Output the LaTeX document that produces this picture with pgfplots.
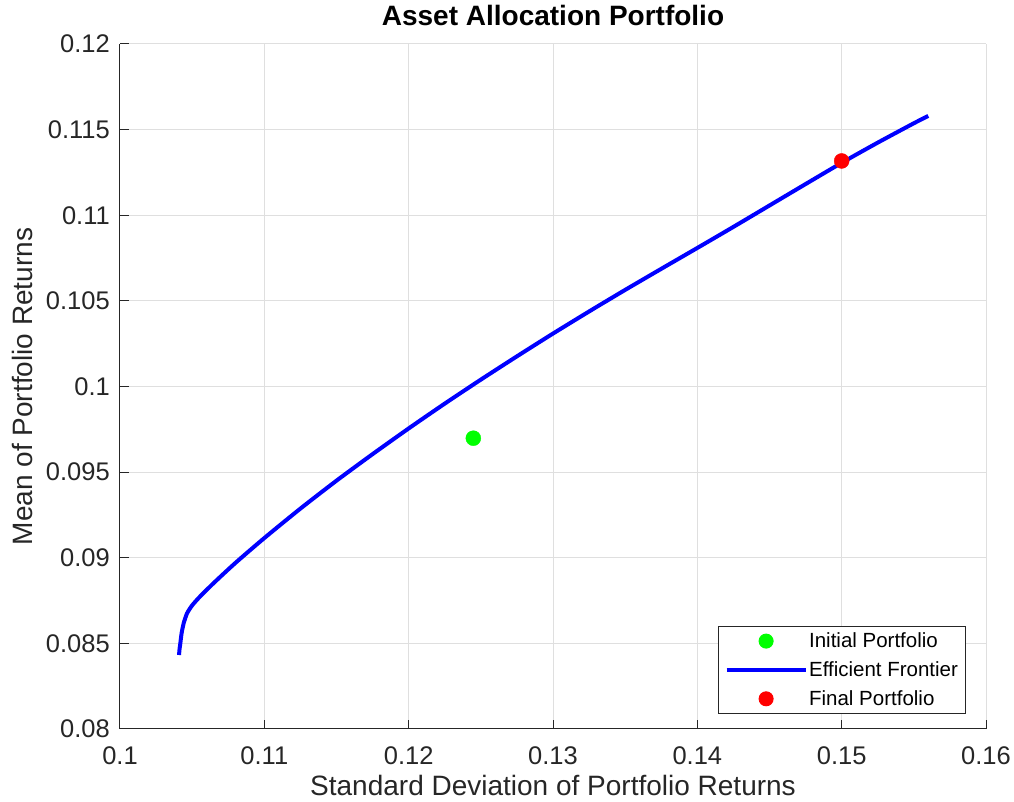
\documentclass[border=0pt]{standalone}
\usepackage{fontspec}
\setmainfont{Liberation Sans}
\usepackage{pgfplots}
\pgfplotsset{compat=1.18}
\definecolor{axcol}{HTML}{262626}
\definecolor{gridcol}{HTML}{DFDFDF}
\begin{document}
\begin{tikzpicture}[x=1pt,y=1pt]
\begin{axis}[
  scale only axis,
  width=866pt, height=685pt,
  xmin=0.1, xmax=0.16, ymin=0.08, ymax=0.12,
  xtick={0.1,0.11,0.12,0.13,0.14,0.15,0.16},
  xticklabels={0.1,0.11,0.12,0.13,0.14,0.15,0.16},
  ytick={0.08,0.085,0.09,0.095,0.1,0.105,0.11,0.115,0.12},
  yticklabels={0.08,0.085,0.09,0.095,0.1,0.105,0.11,0.115,0.12},
  axis x line*=bottom, axis y line*=left,
  axis line style={axcol, line width=1pt, -},
  tick align=inside,
  major tick length=9pt,
  tick style={axcol, line width=1pt},
  grid=major,
  major grid style={gridcol, line width=1pt},
  ticklabel style={font=\fontsize{25.5}{30}\selectfont, text=axcol, inner sep=0pt},
  xticklabel style={anchor=base, yshift=-36pt},
  yticklabel style={anchor=east, xshift=-10pt},
  xlabel={Standard Deviation of Portfolio Returns},
  ylabel={Mean of Portfolio Returns},
  label style={font=\fontsize{28}{32}\selectfont, text=axcol, inner sep=0pt},
  xlabel style={at={(axis description cs:0.5,-0.0964)}, anchor=base},
  ylabel style={at={(axis description cs:-0.1005,0.5)}, anchor=base, rotate=0},
  title={Asset Allocation Portfolio},
  title style={font=\fontsize{28}{32}\selectfont\bfseries, inner sep=0pt,
    at={(axis description cs:0.5,1.0175)}, anchor=base},
  clip=false,
  legend style={at={(rel axis cs:0.9769,0.0219)}, anchor=south east,
    font=\fontsize{20.5}{24}\selectfont, draw=axcol, line width=1pt,
    row sep=9.5pt, inner xsep=6pt, inner ysep=5pt,
    nodes={inner sep=1.5pt},
    legend cell align=left},
  legend image code/.code={\draw[#1, line width=4pt] (0pt,0pt) -- (79pt,0pt);},
]
\path (rel axis cs:-0.13857,-0.10657) rectangle (rel axis cs:1.03233,1.06423);
\addplot[only marks, mark=*, mark size=7.5pt, color=green, mark options={draw=green, fill=green},
  legend image code/.code={\fill[green] (39.5pt,0pt) circle (7pt);}]
  coordinates {(0.12448,0.09698)};
\addlegendentry{Initial Portfolio}
\addplot[blue, line width=4pt, smooth, tension=0.4] coordinates {
(0.10409,0.08432)
(0.10413,0.0847)
(0.10418,0.0850)
(0.10427,0.0856)
(0.10442,0.0862)
(0.10465,0.08676)
(0.10500,0.08722)
(0.10554,0.08773)
(0.1065,0.08853)
(0.1080,0.08970)
(0.1100,0.09115)
(0.1125,0.09287)
(0.1150,0.09450)
(0.1175,0.09605)
(0.1200,0.09755)
(0.1225,0.09900)
(0.1250,0.10040)
(0.1275,0.10176)
(0.1300,0.10309)
(0.1325,0.10438)
(0.1350,0.10564)
(0.1375,0.10687)
(0.1400,0.10809)
(0.1425,0.10932)
(0.1450,0.11057)
(0.1475,0.11182)
(0.1500,0.11306)
(0.1525,0.11424)
(0.1550,0.11537)
(0.1560,0.11580)
};
\addlegendentry{Efficient Frontier}
\addplot[only marks, mark=*, mark size=7.5pt, color=red, mark options={draw=red, fill=red},
  legend image code/.code={\fill[red] (39.5pt,0pt) circle (7pt);}]
  coordinates {(0.1500,0.11317)};
\addlegendentry{Final Portfolio}
\end{axis}
\end{tikzpicture}
\end{document}
